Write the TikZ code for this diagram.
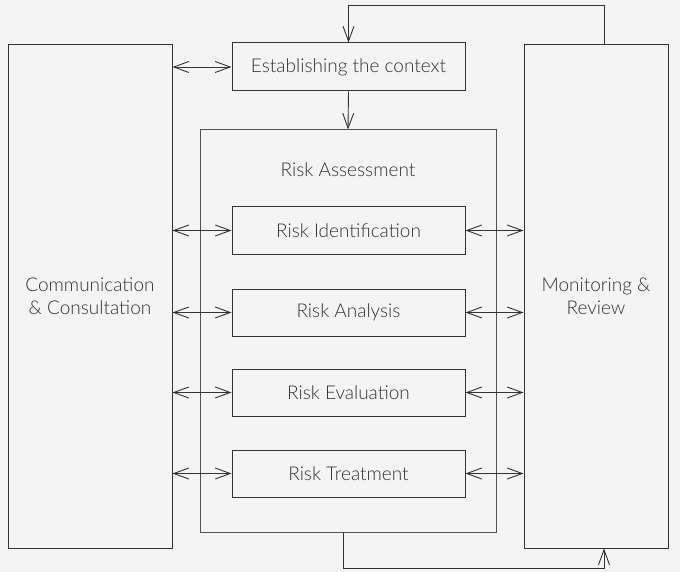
\documentclass[tikz,border=0pt]{standalone}
\usepackage{fontspec}
\setmainfont{Lato Light}
\usepackage{xcolor}
\usetikzlibrary{arrows.meta}
\definecolor{bgfill}{HTML}{F4F4F4}
\definecolor{ink}{HTML}{333333}
\tikzset{
  box/.style={draw=ink,line width=1pt,rectangle,inner sep=0pt,align=center,text=ink,font=\fontsize{19}{23}\selectfont},
  step box/.style={box,minimum width=233pt,minimum height=47pt},
  link/.style={draw=ink,line width=0.9pt,arrows={-Straight Barb[length=15pt,width=11pt,line width=0.9pt]}},
  dlink/.style={link,arrows={Straight Barb[length=15pt,width=11pt,line width=0.9pt]-Straight Barb[length=15pt,width=11pt,line width=0.9pt]}}
}
\begin{document}
\begin{tikzpicture}[x=1pt,y=-1pt]
\fill[bgfill] (0,0) rectangle (680,572);
\useasboundingbox (0,0) rectangle (680,572);
% outer columns
\node[box,minimum width=164pt,minimum height=503pt] (comm) at (90,296.5) {Communication\\ \& Consultation};
\node[box,minimum width=144pt,minimum height=503pt] (mon) at (596,296.5) {Monitoring \&\\ Review};
% context and assessment
\node[step box,minimum height=48pt] (ctx) at (348.5,67) {Establishing the context};
\node[box,draw=ink!85,minimum width=296pt,minimum height=402pt] (assess) at (348,331) {};
\node[text=ink,font=\fontsize{19}{23}\selectfont] (asslbl) at (348,170) {Risk Assessment};
\node[step box] (ident) at (348.5,230.5) {Risk Identification};
\node[step box] (anal) at (348.5,312.5) {Risk Analysis};
\node[step box] (eval) at (348.5,392.5) {Risk Evaluation};
\node[step box] (treat) at (348.5,473.5) {Risk Treatment};
% links
\draw[dlink] (ctx.west -| comm.east) -- (ctx.west);
\foreach \n in {ident,anal,eval,treat}{
  \draw[dlink] (\n.west -| comm.east) -- (\n.west);
  \draw[dlink] (\n.east) -- (\n.east -| mon.west);
}
\draw[link] (ctx.south) -- (assess.north);
\draw[link] ([xshift=8pt]mon.north) -- ++(0,-39) -| (ctx.north);
\draw[link] ([xshift=-5pt]assess.south) -- ++(0,36) -| ([xshift=8pt]mon.south);
\end{tikzpicture}
\end{document}
